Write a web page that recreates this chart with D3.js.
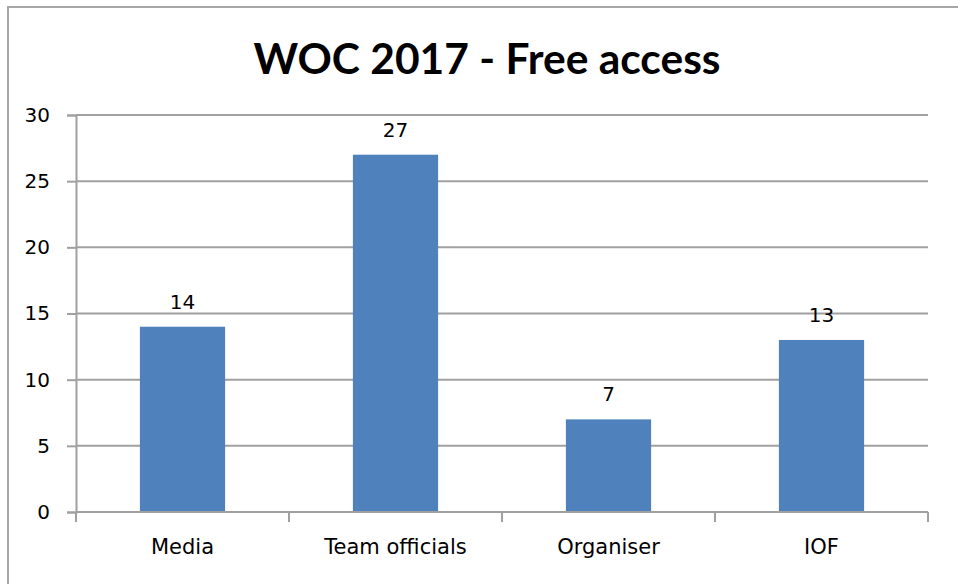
<!DOCTYPE html>
<html lang="en">
<head>
<meta charset="utf-8">
<title>WOC 2017 - Free access</title>
<script src="https://d3js.org/d3.v7.min.js"></script>
<style>
    body { margin:0; background:#fff; }
    svg { display:block; }
</style>
</head>
<body>
<svg width="958" height="584"></svg>
<script>
    var categories = ["Media", "Team officials", "Organiser", "IOF"];
    var values = [14, 27, 7, 13];
    var yTicks = [0, 5, 10, 15, 20, 25, 30];

    var svg = d3.select("svg");
    var margin = {top: 115, right: 30, bottom: 72, left: 76};
    var width = 928 - margin.left;
    var height = 512 - margin.top;
    var font = "'DejaVu Sans', sans-serif";

    // outer chart frame
    svg.append("rect")
        .attr("x", 8).attr("y", 7)
        .attr("width", 970).attr("height", 600)
        .attr("fill", "none")
        .attr("stroke", "#a6a6a6")
        .attr("stroke-width", 2);

    svg.append("text")
        .attr("x", 487).attr("y", 74)
        .attr("text-anchor", "middle")
        .attr("font-family", "Lato, 'Open Sans', sans-serif")
        .attr("font-weight", "bold")
        .attr("font-size", 42.5)
        .attr("fill", "#000")
        .text("WOC 2017 - Free access");

    var g = svg.append("g")
        .attr("transform", "translate(" + margin.left + "," + margin.top + ")");

    var x = d3.scaleBand().domain(categories).range([0, width]).paddingInner(0.6).paddingOuter(0.3);
    var xb = d3.scaleBand().domain(categories).range([0, width]);
    var y = d3.scaleLinear().domain([0, 30]).range([height, 0]);

    // gridlines
    g.append("g")
        .selectAll("line")
        .data(yTicks.slice(1))
        .enter().append("line")
        .attr("x1", 0).attr("x2", width)
        .attr("y1", function(d) { return y(d); })
        .attr("y2", function(d) { return y(d); })
        .attr("stroke", "#a0a0a0")
        .attr("stroke-width", 2);

    var yAxis = g.append("g")
        .call(d3.axisLeft(y).tickValues(yTicks).tickSize(9).tickPadding(17));
    yAxis.select(".domain").attr("stroke", "#a0a0a0").attr("stroke-width", 2);
    yAxis.selectAll(".tick line").attr("stroke", "#a0a0a0").attr("stroke-width", 2);
    yAxis.selectAll("text")
        .attr("font-family", font)
        .attr("font-size", 20)
        .attr("fill", "#000");

    // bars
    g.selectAll(".bar")
        .data(values)
        .enter().append("rect")
        .attr("class", "bar")
        .attr("x", function(d, i) { return x(categories[i]); })
        .attr("width", x.bandwidth())
        .attr("y", function(d) { return y(d); })
        .attr("height", function(d) { return height - y(d); })
        .attr("fill", "#4f81bd");

    g.selectAll(".lbl")
        .data(values)
        .enter().append("text")
        .attr("class", "lbl")
        .attr("x", function(d, i) { return x(categories[i]) + x.bandwidth() / 2; })
        .attr("y", function(d) { return y(d) - 18; })
        .attr("text-anchor", "middle")
        .attr("font-family", font)
        .attr("font-size", 20)
        .attr("fill", "#000")
        .text(function(d) { return d; });

    // x axis with boundary ticks
    var xa = g.append("g").attr("transform", "translate(0," + height + ")");
    xa.append("line")
        .attr("x1", 0).attr("x2", width)
        .attr("stroke", "#a0a0a0").attr("stroke-width", 2);
    xa.selectAll(".tk")
        .data(categories.map(function(c) { return xb(c); }).concat([width]))
        .enter().append("line")
        .attr("x1", function(d) { return d; })
        .attr("x2", function(d) { return d; })
        .attr("y1", 0).attr("y2", 10)
        .attr("stroke", "#a0a0a0").attr("stroke-width", 2);
    xa.selectAll(".cat")
        .data(categories)
        .enter().append("text")
        .attr("x", function(d) { return xb(d) + xb.bandwidth() / 2; })
        .attr("y", 42)
        .attr("text-anchor", "middle")
        .attr("font-family", font)
        .attr("font-size", 21)
        .attr("fill", "#000")
        .text(function(d) { return d; });
</script>
</body>
</html>
